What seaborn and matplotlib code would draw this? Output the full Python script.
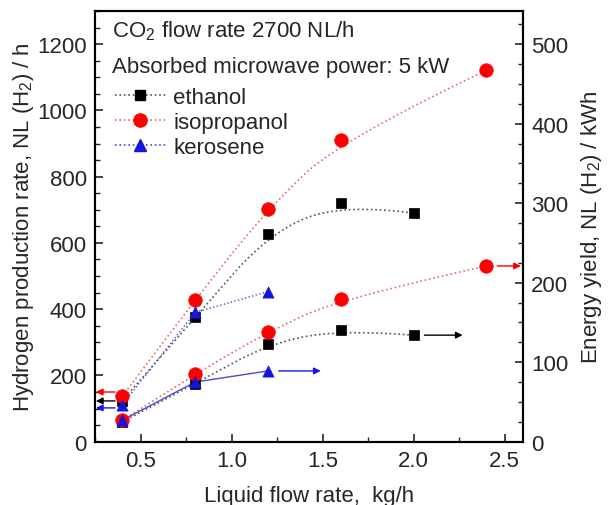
import numpy as np
import pandas as pd
import matplotlib
matplotlib.use("Agg")
import matplotlib.pyplot as plt
from matplotlib.lines import Line2D
from matplotlib.ticker import MultipleLocator
import seaborn as sns

# ---------------------------------------------------------------------
# data
# ---------------------------------------------------------------------
ethanol_flow = [0.4, 0.8, 1.2, 1.6, 2.0]
isopropanol_flow = [0.4, 0.8, 1.2, 1.6, 2.4]
kerosene_flow = [0.4, 0.8, 1.2]

# hydrogen production rate, NL(H2)/h  (left axis)
ethanol_rate = [124, 375, 627, 719, 690]
isopropanol_rate = [137, 429, 703, 911, 1121]
kerosene_rate = [112, 390, 453]

# energy yield, NL(H2)/kWh  (right axis)
ethanol_yield = [25, 73, 123, 141, 134]
isopropanol_yield = [27, 85, 138, 180, 221]
kerosene_yield = [27, 75, 89]

# arrows telling which axis a curve belongs to: (x_start, x_end, y)
rate_arrows = {"ethanol": (0.36, 0.255, 123),
               "isopropanol": (0.36, 0.255, 150),
               "kerosene": (0.36, 0.255, 102)}
yield_arrows = {"ethanol": (2.06, 2.27, 134),
                "isopropanol": (2.46, 2.59, 221),
                "kerosene": (1.26, 1.49, 89)}

colors = {"ethanol": "black", "isopropanol": "#ff0000", "kerosene": "#1515e0"}
line_colors = {"ethanol": "#555555", "isopropanol": "#e86a6a", "kerosene": "#4a4ad8"}
markers = {"ethanol": "s", "isopropanol": "o", "kerosene": "^"}
msizes = {"ethanol": 60, "isopropanol": 95, "kerosene": 65}


def bspline2(xs, ys, n=60):
    """Quadratic B-spline connection (clamped at both ends), like Origin's B-spline line."""
    p = np.column_stack([xs, ys]).astype(float)
    if len(p) < 3:
        return p[:, 0], p[:, 1]
    mids = (p[1:-1] + p[2:]) / 2
    starts = np.vstack([p[0], mids[:-1]])
    ends = np.vstack([mids[:-1], p[-1]])
    ctrls = p[1:-1]
    t = np.linspace(0, 1, n)[:, None]
    segs = [(1 - t) ** 2 * a + 2 * t * (1 - t) * c + t ** 2 * b
            for a, c, b in zip(starts, ctrls, ends)]
    out = np.vstack(segs)
    return out[:, 0], out[:, 1]


sns.set_style("ticks")
plt.rcParams["font.family"] = ["Liberation Sans", "DejaVu Sans"]
plt.rcParams["mathtext.fontset"] = "custom"
plt.rcParams["mathtext.rm"] = "Liberation Sans"
plt.rcParams["mathtext.it"] = "Liberation Sans:italic"

fig = plt.figure(figsize=(6.11, 5.06), dpi=100)
ax = fig.add_axes([0.1555, 0.1251, 0.7, 0.8512])
ax2 = ax.twinx()

fuels = ["ethanol", "isopropanol", "kerosene"]
flows = {"ethanol": ethanol_flow, "isopropanol": isopropanol_flow, "kerosene": kerosene_flow}
rates = {"ethanol": ethanol_rate, "isopropanol": isopropanol_rate, "kerosene": kerosene_rate}
yields = {"ethanol": ethanol_yield, "isopropanol": isopropanol_yield, "kerosene": kerosene_yield}

for axis, values in [(ax, rates), (ax2, yields)]:
    for fuel in fuels:
        if fuel == "kerosene":
            ls = ":" if axis is ax else "-"
            sns.lineplot(x=flows[fuel], y=values[fuel], ax=axis, color=line_colors[fuel],
                         linestyle=ls, linewidth=1.0, zorder=2)
        else:
            cx, cy = bspline2(flows[fuel], values[fuel])
            sns.lineplot(x=cx, y=cy, ax=axis, sort=False, estimator=None,
                         color=line_colors[fuel], linestyle=":", linewidth=1.2, zorder=2)
    for fuel in fuels:
        sns.scatterplot(x=flows[fuel], y=values[fuel], ax=axis, color=colors[fuel],
                        marker=markers[fuel], s=msizes[fuel], edgecolor=colors[fuel],
                        linewidth=0.5, zorder=3, legend=False)

for fuel, (x0, x1, y) in rate_arrows.items():
    ax.annotate("", xy=(x1, y), xytext=(x0, y),
                arrowprops=dict(arrowstyle="-|>", color=colors[fuel], lw=1.0,
                                mutation_scale=10, shrinkA=0, shrinkB=0))
for fuel, (x0, x1, y) in yield_arrows.items():
    ax2.annotate("", xy=(x1, y), xytext=(x0, y),
                 arrowprops=dict(arrowstyle="-|>", color=colors[fuel], lw=1.0,
                                 mutation_scale=10, shrinkA=0, shrinkB=0))

ax.set_xlim(0.25, 2.6)
ax.set_ylim(0, 1300)
ax2.set_ylim(0, 1300 * 5 / 12)

ax.xaxis.set_major_locator(MultipleLocator(0.5))
ax.xaxis.set_minor_locator(MultipleLocator(0.25))
ax.yaxis.set_major_locator(MultipleLocator(200))
ax.yaxis.set_minor_locator(MultipleLocator(50))
ax2.yaxis.set_major_locator(MultipleLocator(100))
ax2.yaxis.set_minor_locator(MultipleLocator(25))

for a in (ax, ax2):
    a.tick_params(which="major", direction="in", length=6, width=1.2, labelsize=16, pad=6)
    a.tick_params(which="minor", direction="in", length=3.5, width=1.0)
    for sp in a.spines.values():
        sp.set_visible(True)
        sp.set_linewidth(1.5)
        sp.set_color("black")
ax.tick_params(axis="y", which="both", right=False)
ax.tick_params(axis="x", which="both", top=False)

ax.set_xlabel("Liquid flow rate,  kg/h", fontsize=16, labelpad=10)
ax.set_ylabel("Hydrogen production rate, NL (H$_2$) / h", fontsize=16, labelpad=1)
ax2.set_ylabel("Energy yield, NL (H$_2$) / kWh", fontsize=16, labelpad=8)

ax.text(0.04, 0.955, "CO$_2$ flow rate 2700 NL/h", transform=ax.transAxes,
        fontsize=16, va="center", ha="left")
ax.text(0.04, 0.87, "Absorbed microwave power: 5 kW", transform=ax.transAxes,
        fontsize=16, va="center", ha="left")

handles = [Line2D([], [], color=line_colors[f], linestyle=":", linewidth=1.2,
                  marker=markers[f], markersize={"ethanol": 7.5, "isopropanol": 9.5, "kerosene": 8}[f],
                  markerfacecolor=colors[f], markeredgecolor=colors[f])
           for f in fuels]
ax.legend(handles, fuels, loc="upper left",
          bbox_to_anchor=(0.025, 0.845), frameon=False, fontsize=16,
          handlelength=2.3, handletextpad=0.35, labelspacing=0.18, borderaxespad=0)

fig.savefig("out.png", dpi=100)
